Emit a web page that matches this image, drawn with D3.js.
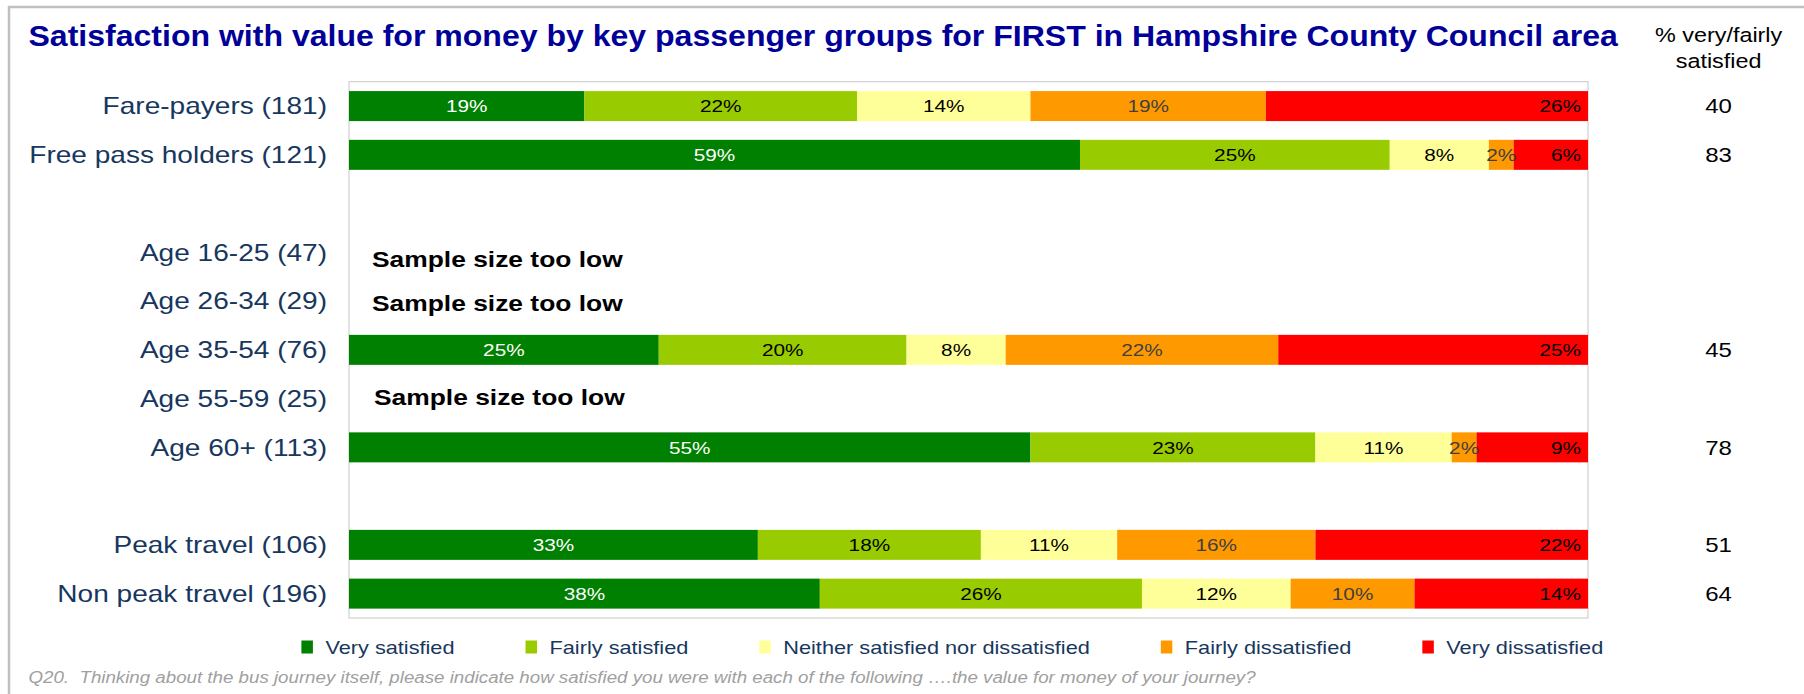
<!DOCTYPE html>
<html>
<head>
<meta charset="utf-8">
<script src="https://cdn.jsdelivr.net/npm/d3@7"></script>
<style>
  body { margin: 0; background: #fff; }
  svg { display: block; font-family: "Liberation Sans", Arial, sans-serif; }
</style>
</head>
<body>
<svg width="1804" height="694"></svg>
<script>
// rows, top to bottom ('' = spacer row)
const categories = ['Fare-payers (181)', 'Free pass holders (121)', '', 'Age 16-25 (47)', 'Age 26-34 (29)',
    'Age 35-54 (76)', 'Age 55-59 (25)', 'Age 60+ (113)', '', 'Peak travel (106)', 'Non peak travel (196)'];

const seriesNames = ['Very satisfied', 'Fairly satisfied', 'Neither satisfied nor dissatisfied',
    'Fairly dissatisfied', 'Very dissatisfied'];

const verySatisfied      = [19, 59, null, null, null, 25, null, 55, null, 33, 38];
const fairlySatisfied    = [22, 25, null, null, null, 20, null, 23, null, 18, 26];
const neither            = [14,  8, null, null, null,  8, null, 11, null, 11, 12];
const fairlyDissatisfied = [19,  2, null, null, null, 22, null,  2, null, 16, 10];
const veryDissatisfied   = [26,  6, null, null, null, 25, null,  9, null, 22, 14];

// right hand column
const satisfiedPct = [40, 83, null, null, null, 45, null, 78, null, 51, 64];

const title = 'Satisfaction with value for money by key passenger groups for FIRST in Hampshire County Council area';
const footnote = 'Q20.  Thinking about the bus journey itself, please indicate how satisfied you were with each of the following \u2026.the value for money of your journey?';
const lowSampleText = 'Sample size too low';

const colours = ['#008000', '#99CC00', '#FFFF99', '#FF9900', '#FF0000'];
const labelColours = ['#ffffff', '#000000', '#000000', '#404040', '#000000'];
const navy = '#17375E';

// the "sample size too low" boxes are not quite centred on their rows
const lowSampleNudge = {3: [0, 6.5], 4: [0, 1.5], 6: [2, -1.5]};

var seriesData = [verySatisfied, fairlySatisfied, neither, fairlyDissatisfied, veryDissatisfied];

var table = categories.map((c, i) => {
    var row = {idx: i, cat: c, has: verySatisfied[i] != null};
    seriesNames.forEach((s, k) => row[s] = seriesData[k][i] || 0);
    return row;
});

var svg = d3.select('svg');

// text helper: place at x,y and stretch horizontally (reference text is a bit wide)
function txt(parent, x, y, s, sx) {
    return parent.append('text')
        .attr('transform', `translate(${x},${y}) scale(${sx || 1.2},1)`)
        .text(s);
}

// outer frame
svg.append('rect')
    .attr('x', 9).attr('y', 7)
    .attr('width', 1810).attr('height', 700)
    .attr('fill', 'none')
    .attr('stroke', '#c0c0c0')
    .attr('stroke-width', 2.5);

txt(svg, 28.5, 46, title, 1.105)
    .attr('font-size', 29)
    .attr('font-weight', 'bold')
    .attr('fill', '#000099');

var x = d3.scaleLinear().domain([0, 100]).range([349, 1588]);
var y = d3.scaleBand().domain(d3.range(categories.length)).range([81.7, 618])
    .paddingInner(0.385).paddingOuter(0.1925);

// plot area
svg.append('rect')
    .attr('x', x(0)).attr('y', 81.7)
    .attr('width', x(100) - x(0)).attr('height', 618 - 81.7)
    .attr('fill', 'none')
    .attr('stroke', '#d0d0d0')
    .attr('stroke-width', 1.2);

var stacked = d3.stack().keys(seriesNames)(table.filter(d => d.has));

var layers = svg.append('g').selectAll('g')
    .data(stacked).enter().append('g')
    .attr('fill', (d, k) => colours[k]);

layers.selectAll('rect')
    .data(d => d).enter().append('rect')
    .attr('x', d => x(d[0]))
    .attr('y', d => y(d.data.idx))
    .attr('width', d => x(d[1]) - x(d[0]))
    .attr('height', y.bandwidth());

// segment labels, last series sits at the inside end
stacked.forEach((layer, k) => {
    layer.forEach(d => {
        var last = k == seriesNames.length - 1;
        var cx = last ? x(d[1]) - 7 : (x(d[0]) + x(d[1])) / 2;
        txt(svg, cx, y(d.data.idx) + y.bandwidth() / 2, (d[1] - d[0]) + '%')
            .attr('dy', '0.36em')
            .attr('text-anchor', last ? 'end' : 'middle')
            .attr('font-size', 17.3)
            .attr('fill', labelColours[k]);
    });
});

// category labels
table.forEach(d => {
    if (!d.cat) return;
    txt(svg, 327, y(d.idx) + y.bandwidth() / 2, d.cat, 1.22)
        .attr('dy', '0.36em')
        .attr('text-anchor', 'end')
        .attr('font-size', 23)
        .attr('fill', navy);
    if (!d.has) {
        var n = lowSampleNudge[d.idx] || [0, 0];
        txt(svg, 372 + n[0], y(d.idx) + y.bandwidth() / 2 + n[1], lowSampleText)
            .attr('dy', '0.36em')
            .attr('font-size', 22)
            .attr('font-weight', 'bold')
            .attr('fill', '#000');
    }
});

// % very/fairly satisfied column
var colX = 1718.6;
txt(svg, colX, 41.5, '% very/fairly').attr('text-anchor', 'middle').attr('font-size', 19.5).attr('fill', '#000');
txt(svg, colX, 68, 'satisfied').attr('text-anchor', 'middle').attr('font-size', 19.5).attr('fill', '#000');

satisfiedPct.forEach((v, i) => {
    if (v == null) return;
    txt(svg, colX, y(i) + y.bandwidth() / 2, v)
        .attr('dy', '0.36em')
        .attr('text-anchor', 'middle')
        .attr('font-size', 20)
        .attr('fill', '#000');
});

// legend
var lx = 301.4, ly = 647;
seriesNames.forEach((s, k) => {
    svg.append('rect')
        .attr('x', lx).attr('y', ly - 6.5)
        .attr('width', 11.5).attr('height', 13)
        .attr('fill', colours[k]);
    var t = txt(svg, lx + 24, ly, s)
        .attr('dy', '0.36em')
        .attr('font-size', 18.1)
        .attr('fill', navy);
    lx = lx + 24 + t.node().getComputedTextLength() * 1.2 + 71;
});

txt(svg, 28.5, 677, footnote)
    .attr('dy', '0.36em')
    .attr('font-size', 15.6)
    .attr('font-style', 'italic')
    .attr('fill', '#a0a0a0')
    .style('white-space', 'pre');
</script>
</body>
</html>
